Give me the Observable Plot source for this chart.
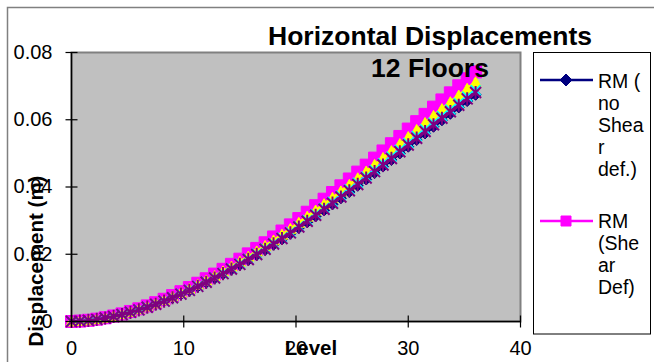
<!DOCTYPE html>
<html><head><meta charset="utf-8">
<script src="https://cdn.jsdelivr.net/npm/d3@7"></script>
<script src="https://cdn.jsdelivr.net/npm/@observablehq/plot@0.6"></script>
<style>
body{margin:0;background:#fff;}
#chart{position:relative;width:654px;height:362px;overflow:hidden;}
</style>
</head><body><div id="chart"></div>
<script>
// ---- data ----
const levels = [0,0.75,1.5,2.25,3,3.75,4.5,5.25,6,6.75,7.5,8.25,9,9.75,10.5,11.25,12,12.75,13.5,14.25,15,15.75,16.5,17.25,18,18.75,19.5,20.25,21,21.75,22.5,23.25,24,24.75,25.5,26.25,27,27.75,28.5,29.25,30,30.75,31.5,32.25,33,33.75,34.5,35.25,36];
const rmNoShear = [0,0.00012,0.00033,0.00062,0.00101,0.00149,0.00205,0.0027,0.00343,0.00422,0.00508,0.006,0.00699,0.00805,0.00917,0.01034,0.01154,0.0128,0.0141,0.01544,0.01683,0.01827,0.01974,0.02127,0.02283,0.02444,0.0261,0.0278,0.02952,0.03127,0.03305,0.03484,0.03665,0.03849,0.04035,0.04223,0.04413,0.04606,0.04802,0.04999,0.05198,0.05397,0.05594,0.05791,0.05985,0.06177,0.06367,0.06556,0.06742];
const rmShear = [0,0.00013,0.00036,0.00069,0.00111,0.00164,0.00226,0.00298,0.00377,0.00464,0.00559,0.00661,0.0077,0.00886,0.01009,0.01138,0.01271,0.01409,0.01552,0.017,0.01853,0.02011,0.02173,0.02341,0.02514,0.02691,0.02873,0.03061,0.0325,0.03443,0.03638,0.03836,0.04035,0.04238,0.04443,0.0465,0.04859,0.05072,0.05287,0.05503,0.05723,0.05943,0.0616,0.06375,0.06589,0.068,0.0701,0.07218,0.07423];
const series3 = [0,0.00013,0.00034,0.00066,0.00107,0.00157,0.00216,0.00285,0.00362,0.00445,0.00536,0.00633,0.00738,0.0085,0.00968,0.01091,0.01218,0.01351,0.01488,0.0163,0.01777,0.01928,0.02084,0.02245,0.0241,0.0258,0.02755,0.02934,0.03116,0.03301,0.03488,0.03677,0.03869,0.04063,0.04259,0.04458,0.04659,0.04862,0.05068,0.05276,0.05486,0.05697,0.05905,0.06112,0.06317,0.0652,0.0672,0.0692,0.07116];
const series4 = [0,0.00012,0.00033,0.00064,0.00103,0.00152,0.00209,0.00276,0.00349,0.0043,0.00518,0.00612,0.00713,0.00821,0.00935,0.01054,0.01178,0.01306,0.01438,0.01576,0.01717,0.01863,0.02014,0.02169,0.02329,0.02494,0.02662,0.02836,0.03012,0.03191,0.03371,0.03554,0.03739,0.03927,0.04117,0.04309,0.04503,0.047,0.04899,0.05099,0.05303,0.05507,0.05708,0.05907,0.06105,0.06301,0.06495,0.06688,0.06878];
const series5 = [0,0.00012,0.00033,0.00063,0.00102,0.0015,0.00207,0.00273,0.00346,0.00426,0.00513,0.00606,0.00706,0.00813,0.00926,0.01044,0.01166,0.01293,0.01424,0.0156,0.017,0.01845,0.01994,0.02148,0.02306,0.02469,0.02636,0.02808,0.02982,0.03159,0.03338,0.03519,0.03702,0.03888,0.04076,0.04266,0.04458,0.04653,0.0485,0.05049,0.0525,0.05452,0.05651,0.05849,0.06045,0.06239,0.06431,0.06622,0.0681];
const xTicks = [0,10,20,30,40];
const xTickLabels = ["0","10","20","30","40"];
const yTicks = [0,0.02,0.04,0.06,0.08];
const yTickLabels = ["0","0.02","0.04","0.06","0.08"];
const titleText = "Horizontal Displacements";
const subtitleText = "12 Floors";
const xLabel = "Level";
const yLabel = "Displacement (m)";
const legendLines = [["RM (","no","Shea","r","def.)"],["RM","(She","ar","Def)"]];

// ---- Excel-like marker shapes (half-size = r) ----
const half = s => Math.sqrt(s/Math.PI);
const symSquare = {draw(c,s){const h=half(s); c.rect(-h,-h,2*h,2*h);}};
const symDiamond = {draw(c,s){const h=half(s); c.moveTo(0,-h);c.lineTo(h,0);c.lineTo(0,h);c.lineTo(-h,0);c.closePath();}};
const symTriangle = {draw(c,s){const h=half(s); c.moveTo(0,-h);c.lineTo(h,h*0.8);c.lineTo(-h,h*0.8);c.closePath();}};
const symX = {draw(c,s){const h=half(s); c.moveTo(-h,-h);c.lineTo(h,h);c.moveTo(-h,h);c.lineTo(h,-h);}};
const symStar = {draw(c,s){const h=half(s); c.moveTo(-h,-h);c.lineTo(h,h);c.moveTo(-h,h);c.lineTo(h,-h);c.moveTo(0,-h*1.2);c.lineTo(0,h*1.2);}};
const symVTick = {draw(c,s){const h=half(s); c.moveTo(0,-h);c.lineTo(0,h);}};
const symHTick = {draw(c,s){const h=half(s); c.moveTo(-h,0);c.lineTo(h,0);}};

const seriesDefs = [
  {values: rmNoShear, color:"#000080", symbol:symDiamond, r:5.5, filled:true},
  {values: rmShear,   color:"#ff00ff", symbol:symSquare,  r:6, filled:true},
  {values: series3,   color:"#ffff00", symbol:symTriangle,r:5.5, filled:true},
  {values: series4,   color:"#00ffff", symbol:symX,       r:5, filled:false},
  {values: series5,   color:"#800080", symbol:symStar,    r:5.5, filled:false}
];

const FONT = "'Liberation Sans', Arial, sans-serif";
const marks = [Plot.frame({fill:"#c0c0c0", stroke:"#808080", strokeWidth:2})];
for (const s of seriesDefs) {
  const rows = levels.map((x,i)=>({level:x, disp:s.values[i]}));
  marks.push(Plot.line(rows,{x:"level",y:"disp",stroke:s.color,strokeWidth:3}));
  marks.push(Plot.dot(rows,{x:"level",y:"disp",symbol:s.symbol,r:s.r,
    fill:s.filled?s.color:"none",stroke:s.color,strokeWidth:s.filled?1:2}));
}
marks.push(
  Plot.ruleX([0],{stroke:"black",strokeWidth:1.5}),
  Plot.ruleY([0],{stroke:"black",strokeWidth:1.5}),
  Plot.dot(xTicks,{x:d=>d,y:0,symbol:symVTick,r:6,stroke:"black",strokeWidth:1.2}),
  Plot.dot(yTicks,{x:0,y:d=>d,symbol:symHTick,r:6,stroke:"black",strokeWidth:1.2}),
  Plot.axisX({ticks:xTicks,tickSize:0,tickPadding:19,fontSize:20,label:null,
    tickFormat:(d)=>xTickLabels[xTicks.indexOf(d)]}),
  Plot.axisY({ticks:yTicks,tickSize:0,tickPadding:19,fontSize:20,label:null,
    tickFormat:(d)=>yTickLabels[yTicks.indexOf(d)]})
);

const svg = Plot.plot({
  width:654, height:362,
  marginLeft:71, marginRight:134, marginTop:52, marginBottom:41,
  x:{domain:[0,40]}, y:{domain:[0,0.08]},
  style:{fontFamily:FONT, fontSize:"20px", background:"white", overflow:"visible"},
  marks
});
document.getElementById("chart").appendChild(svg);

const g = d3.select(svg).append("g").attr("font-family",FONT).attr("fill","black");
// outer chart border
g.append("rect").attr("x",7.5).attr("y",7.5).attr("width",700).attr("height",400)
  .attr("fill","none").attr("stroke","#808080").attr("stroke-width",1.5);
// titles
g.append("text").attr("x",430).attr("y",45).attr("text-anchor","middle")
  .attr("font-size",26.5).attr("font-weight","bold").text(titleText);
g.append("text").attr("x",430).attr("y",77).attr("text-anchor","middle")
  .attr("font-size",26.5).attr("font-weight","bold").text(subtitleText);
// axis titles
g.append("text").attr("x",311).attr("y",355).attr("text-anchor","middle")
  .attr("font-size",20.5).attr("font-weight","bold").text(xLabel);
g.append("text").attr("transform","translate(43,261) rotate(-90)").attr("text-anchor","middle")
  .attr("font-size",20.5).attr("font-weight","bold").text(yLabel);
// legend
g.append("rect").attr("x",533.5).attr("y",52.5).attr("width",117).attr("height",281.5)
  .attr("fill","white").attr("stroke","black").attr("stroke-width",1);
const legendItems = [
  {lineY:80, textY:88, color:"#000080", symbol:d3.symbol({draw:symDiamond.draw},Math.PI*36)},
  {lineY:221, textY:228, color:"#ff00ff", symbol:d3.symbol({draw:symSquare.draw},Math.PI*25)}
];
legendItems.forEach((it,k)=>{
  g.append("line").attr("x1",540).attr("x2",593).attr("y1",it.lineY).attr("y2",it.lineY)
    .attr("stroke",it.color).attr("stroke-width",2.5);
  g.append("path").attr("d",it.symbol()).attr("transform",`translate(566,${it.lineY})`)
    .attr("fill",it.color).attr("stroke",it.color);
  legendLines[k].forEach((t,j)=>{
    g.append("text").attr("x",598).attr("y",it.textY+22*j).attr("text-anchor","start")
      .attr("font-size",19.5).text(t);
  });
});
</script>
</body></html>
